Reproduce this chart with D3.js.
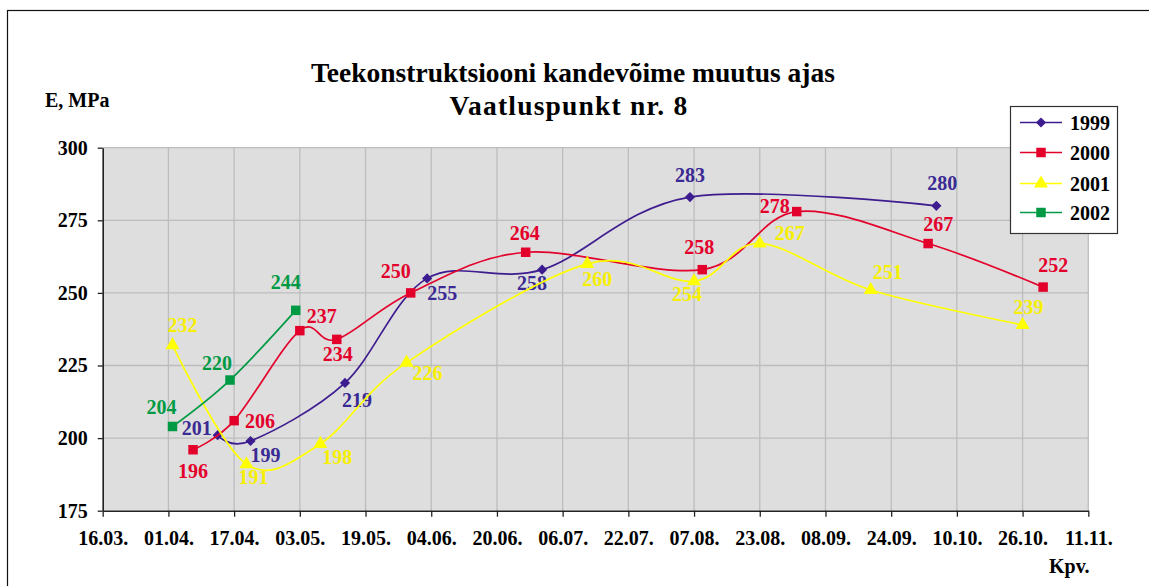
<!DOCTYPE html>
<html>
<meta charset="utf-8">
<script src="https://d3js.org/d3.v7.min.js"></script>
<body style="margin:0;background:#fff">
<div id="chart"></div>
<script>
// measurement dates (dd.mm) and E-modulus values, MPa
var dates1999 = ["13.04", "21.04", "14.05", "03.06", "01.07", "06.08", "05.10"];
var vals1999  = [201, 199, 219, 255, 258, 283, 280];

var dates2000 = ["07.04", "17.04", "03.05", "12.05", "30.05", "27.06", "09.08", "01.09", "03.10", "31.10"];
var vals2000  = [196, 206, 237, 234, 250, 264, 258, 278, 267, 252];

var dates2001 = ["02.04", "20.04", "08.05", "29.05", "12.07", "07.08", "23.08", "19.09", "26.10"];
var vals2001  = [232, 191, 198, 226, 260, 254, 267, 251, 239];

var dates2002 = ["02.04", "16.04", "02.05"];
var vals2002  = [204, 220, 244];

var yTicks = [175, 200, 225, 250, 275, 300];

// where each value label sits relative to its marker (label centre offset, px)
var labelShift = {
  "1999": [[-21, -7], [15, 14], [12, 17], [15, 15], [-10, 13], [0, -22], [6, -23]],
  "2000": [[0, 21], [26, 0], [22, -15], [1, 15], [-15, -22], [-1, -19], [-3, -23], [-22, -6], [10, -20], [10, -22]],
  "2001": [[10, -20], [7, 13], [17, 13], [21, 10], [10, 15], [-7, 13], [30, -11], [17, -18], [6, -18]],
  "2002": [[-11, -19], [-13, -17], [-10, -28]]
};

var FONT = "Liberation Serif";
var parse = d3.utcParse("%d.%m");
var series = [
  {name: "1999", dates: dates1999, vals: vals1999, color: "#3d1c8f", label: "#3a2a93", marker: "diamond"},
  {name: "2000", dates: dates2000, vals: vals2000, color: "#e3002b", label: "#e3002b", marker: "square"},
  {name: "2001", dates: dates2001, vals: vals2001, color: "#ffff00", label: "#f6ef00", marker: "triangle"},
  {name: "2002", dates: dates2002, vals: vals2002, color: "#009a44", label: "#009a44", marker: "square"}
];

var W = 1149, H = 586;
var plot = {left: 102.7, right: 1088.3, top: 147.7, bottom: 510.7};

var svg = d3.select("#chart").append("svg")
    .attr("width", W)
    .attr("height", H)
    .attr("font-family", FONT)
    .attr("font-weight", "bold");

// outer frame
svg.append("rect")
    .attr("x", 7.5).attr("y", 10.5)
    .attr("width", 1200).attr("height", 700)
    .attr("fill", "none").attr("stroke", "#111").attr("stroke-width", 1.2);

var start = parse("16.03"), end = parse("11.11");
var x = d3.scaleUtc().domain([start, end]).range([plot.left, plot.right]);
var y = d3.scaleLinear().domain([175, 300]).range([plot.bottom, plot.top]);
var xTicks = d3.range(0, 16).map(function(i) { return d3.utcDay.offset(start, 16 * i); });

// plot background
svg.append("rect")
    .attr("x", plot.left).attr("y", plot.top)
    .attr("width", plot.right - plot.left).attr("height", plot.bottom - plot.top)
    .attr("fill", "#dedede");

// grid
svg.append("g").selectAll("line")
    .data(xTicks.slice(1))
    .enter().append("line")
    .attr("x1", function(d) { return x(d); }).attr("x2", function(d) { return x(d); })
    .attr("y1", plot.top).attr("y2", plot.bottom)
    .attr("stroke", "#bdbdbd").attr("stroke-width", 1.3);
svg.append("g").selectAll("line")
    .data(yTicks.slice(1))
    .enter().append("line")
    .attr("x1", plot.left).attr("x2", plot.right)
    .attr("y1", function(d) { return y(d); }).attr("y2", function(d) { return y(d); })
    .attr("stroke", "#bdbdbd").attr("stroke-width", 1.3);

// axes
var xAxis = svg.append("g")
    .attr("transform", "translate(0," + plot.bottom + ")")
    .call(d3.axisBottom(x).tickValues(xTicks).tickFormat(d3.utcFormat("%d.%m.")).tickSize(6).tickSizeOuter(0));
var yAxis = svg.append("g")
    .attr("transform", "translate(" + plot.left + ",0)")
    .call(d3.axisLeft(y).tickValues(yTicks).tickSize(5).tickSizeOuter(0));

[xAxis, yAxis].forEach(function(a) {
  a.attr("font-family", FONT).attr("font-size", 20).attr("font-weight", "bold");
  a.select(".domain").attr("stroke", "#222").attr("stroke-width", 1.6);
  a.selectAll(".tick line").attr("stroke", "#222").attr("stroke-width", 1.3);
  a.selectAll(".tick text").attr("fill", "#000");
});
xAxis.selectAll(".tick text").attr("y", 20);
yAxis.selectAll(".tick text").attr("x", -15);

// titles
svg.append("text").attr("x", 573).attr("y", 82)
    .attr("text-anchor", "middle").attr("font-size", 27.5)
    .text("Teekonstruktsiooni kandevõime muutus ajas");
svg.append("text").attr("x", 569).attr("y", 115)
    .attr("text-anchor", "middle").attr("font-size", 27.5)
    .attr("letter-spacing", 1.2)
    .text("Vaatluspunkt nr. 8");
svg.append("text").attr("x", 45).attr("y", 107)
    .attr("font-size", 20).text("E, MPa");
svg.append("text").attr("x", 1049).attr("y", 573)
    .attr("font-size", 20).text("Kpv.");

var line = d3.line()
    .x(function(d) { return x(d.date); })
    .y(function(d) { return y(d.value); })
    .curve(d3.curveCatmullRom.alpha(0));

function markerPath(type) {
  if (type === "diamond") return d3.symbol().type(d3.symbolSquare).size(52)();
  if (type === "triangle") return d3.symbol().type(d3.symbolTriangle).size(85)();
  return d3.symbol().type(d3.symbolSquare).size(90)();
}
function markerRot(type) { return type === "diamond" ? " rotate(45)" : ""; }

series.forEach(function(s) {
  var pts = s.dates.map(function(d, i) { return {date: parse(d), value: s.vals[i]}; });
  var g = svg.append("g");
  g.append("path")
      .attr("d", line(pts))
      .attr("fill", "none")
      .attr("stroke", s.color)
      .attr("stroke-width", 1.7);
  g.selectAll("path.m")
      .data(pts)
      .enter().append("path")
      .attr("class", "m")
      .attr("transform", function(d) { return "translate(" + x(d.date) + "," + y(d.value) + ")" + markerRot(s.marker); })
      .attr("d", markerPath(s.marker))
      .attr("fill", s.color);
  g.selectAll("text")
      .data(pts)
      .enter().append("text")
      .attr("x", function(d, i) { return x(d.date) + labelShift[s.name][i][0]; })
      .attr("y", function(d, i) { return y(d.value) + labelShift[s.name][i][1]; })
      .attr("dy", "0.35em")
      .attr("text-anchor", "middle")
      .attr("fill", s.label)
      .attr("font-size", 20)
      .text(function(d) { return d.value; });
});

// legend
var legend = svg.append("g");
legend.append("rect")
    .attr("x", 1010.5).attr("y", 106.5)
    .attr("width", 107).attr("height", 127)
    .attr("fill", "#fff").attr("stroke", "#333").attr("stroke-width", 1.2);
var rows = legend.selectAll("g.row")
    .data(series)
    .enter().append("g")
    .attr("class", "row")
    .attr("transform", function(d, i) { return "translate(0," + [122.5, 152.5, 183.5, 212.5][i] + ")"; });
rows.append("line")
    .attr("x1", 1020).attr("x2", 1062)
    .attr("stroke", function(d) { return d.color; })
    .attr("stroke-width", 1.7);
rows.append("path")
    .attr("transform", function(d) { return "translate(1041,0)" + markerRot(d.marker); })
    .attr("d", function(d) { return markerPath(d.marker); })
    .attr("fill", function(d) { return d.color; });
rows.append("text")
    .attr("x", 1070).attr("y", 7)
    .attr("font-size", 20)
    .text(function(d) { return d.name; });
</script>
</body>
</html>
